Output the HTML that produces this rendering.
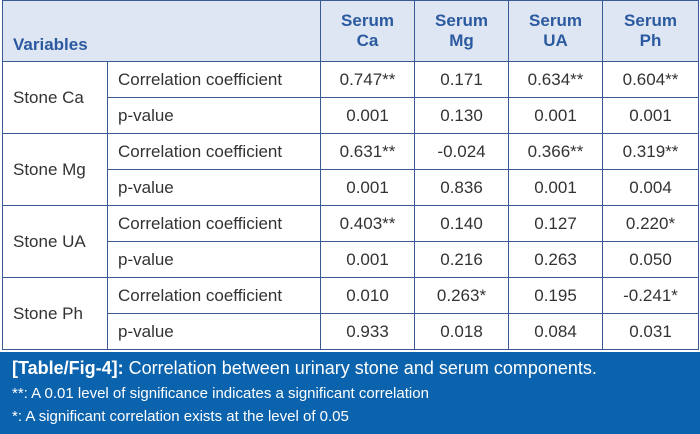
<!DOCTYPE html>
<html><head><meta charset="utf-8"><style>
body{margin:0;width:700px;height:434px;background:#fff;font-family:"Liberation Sans",sans-serif;overflow:hidden;position:relative}
table{position:absolute;left:2px;top:0;width:696px;border-collapse:collapse;table-layout:fixed}
td,th{border:1px solid #3a5a94;font-size:17px;color:#333;padding:0;height:35px;line-height:20px;font-weight:normal}
th{background:#dde6f2;color:#2c5aa0;font-weight:bold;font-size:17px;line-height:20px;height:60px}
th.v{text-align:left;padding-left:10px;vertical-align:bottom;padding-bottom:6px;height:54px}
td.c{text-align:center}
td.s{padding-left:10px}
td.n{padding-left:10px}
.cap{position:absolute;left:0;top:352px;width:700px;height:82px;background:#0b63ad;color:#fff}
.cap div{position:absolute;left:12px;white-space:nowrap}
</style></head><body>
<table>
<colgroup><col style="width:105px"><col style="width:213px"><col style="width:94px"><col style="width:94px"><col style="width:94px"><col style="width:96px"></colgroup>
<tr><th class="v" colspan="2">Variables</th><th>Serum<br>Ca</th><th>Serum<br>Mg</th><th>Serum<br>UA</th><th>Serum<br>Ph</th></tr>
<tr><td class="s" rowspan="2">Stone Ca</td><td class="n">Correlation coefficient</td><td class="c">0.747**</td><td class="c">0.171</td><td class="c">0.634**</td><td class="c">0.604**</td></tr>
<tr><td class="n">p-value</td><td class="c">0.001</td><td class="c">0.130</td><td class="c">0.001</td><td class="c">0.001</td></tr>
<tr><td class="s" rowspan="2">Stone Mg</td><td class="n">Correlation coefficient</td><td class="c">0.631**</td><td class="c">-0.024</td><td class="c">0.366**</td><td class="c">0.319**</td></tr>
<tr><td class="n">p-value</td><td class="c">0.001</td><td class="c">0.836</td><td class="c">0.001</td><td class="c">0.004</td></tr>
<tr><td class="s" rowspan="2">Stone UA</td><td class="n">Correlation coefficient</td><td class="c">0.403**</td><td class="c">0.140</td><td class="c">0.127</td><td class="c">0.220*</td></tr>
<tr><td class="n">p-value</td><td class="c">0.001</td><td class="c">0.216</td><td class="c">0.263</td><td class="c">0.050</td></tr>
<tr><td class="s" rowspan="2">Stone Ph</td><td class="n">Correlation coefficient</td><td class="c">0.010</td><td class="c">0.263*</td><td class="c">0.195</td><td class="c">-0.241*</td></tr>
<tr><td class="n">p-value</td><td class="c">0.933</td><td class="c">0.018</td><td class="c">0.084</td><td class="c">0.031</td></tr>
</table>
<div class="cap">
<div style="top:6px;font-size:18px"><b>[Table/Fig-4]:</b> Correlation between urinary stone and serum components.</div>
<div style="top:33px;font-size:15px">**: A 0.01 level of significance indicates a significant correlation</div>
<div style="top:56px;font-size:15px">*: A significant correlation exists at the level of 0.05</div>
</div>
</body></html>
